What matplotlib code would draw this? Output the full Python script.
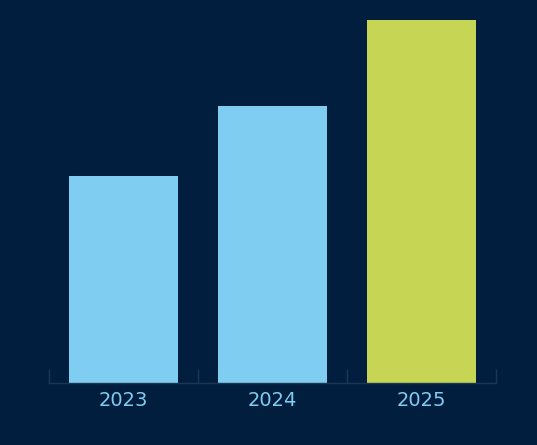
import matplotlib
matplotlib.use("Agg")
import matplotlib.pyplot as plt

years = ["2023", "2024", "2025"]
values = [57.0, 76.3, 100.0]
colors = ["#7fcdf1", "#7fcdf1", "#c6d654"]

bg = "#021e3e"
fig = plt.figure(figsize=(5.37, 4.45), dpi=100, facecolor=bg)
ax = fig.add_axes([49/537, 1-383/445, (496-49)/537, (383-20)/445])
ax.set_facecolor(bg)

x = list(range(len(years)))
ax.bar(x, values, width=0.725, color=colors, zorder=2)
ax.set_xlim(-0.5, len(years) - 0.5)
ax.set_ylim(0, 100)

for s in ["top", "right", "left"]:
    ax.spines[s].set_visible(False)
ax.spines["bottom"].set_color("#1c3756")
ax.spines["bottom"].set_linewidth(1.0)
ax.set_yticks([])

ax.set_xticks(x)
ax.set_xticklabels(years, family=["DejaVu Sans"], fontsize=14,
                   color="#7fcdf1", fontweight="normal")
ax.tick_params(axis="x", length=0, pad=6)
ax.set_xticks([-0.5, 0.5, 1.5, 2.5], minor=True)
ax.tick_params(axis="x", which="minor", direction="in", length=10,
               color="#1c3756", width=1.0)

fig.savefig("out.png", dpi=100, facecolor=bg)
